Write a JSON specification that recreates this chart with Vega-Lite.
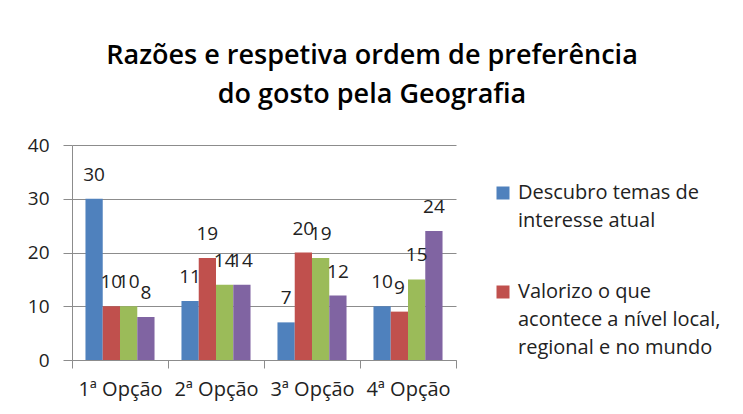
{
  "$schema": "https://vega.github.io/schema/vega-lite/v6.json",
  "width": 384,
  "height": 215,
  "autosize": "none",
  "padding": {"left": 72, "top": 145, "right": 287, "bottom": 54},
  "background": "white",
  "config": {"view": {"stroke": null}, "font": "Open Sans"},
  "title": {
    "text": ["Razões e respetiva ordem de preferência", "do gosto pela Geografia"],
    "font": "Open Sans",
    "fontSize": 27,
    "fontWeight": 600,
    "color": "#000000",
    "lineHeight": 39,
    "anchor": "middle",
    "dx": 108,
    "offset": 27
  },
  "data": {
    "values": [
      {"opcao": "1ª Opção", "serie": "Descubro temas de interesse atual", "valor": 30},
      {"opcao": "1ª Opção", "serie": "Valorizo o que acontece a nível local, regional e no mundo", "valor": 10},
      {"opcao": "1ª Opção", "serie": "Série 3", "valor": 10},
      {"opcao": "1ª Opção", "serie": "Série 4", "valor": 8},
      {"opcao": "2ª Opção", "serie": "Descubro temas de interesse atual", "valor": 11},
      {"opcao": "2ª Opção", "serie": "Valorizo o que acontece a nível local, regional e no mundo", "valor": 19},
      {"opcao": "2ª Opção", "serie": "Série 3", "valor": 14},
      {"opcao": "2ª Opção", "serie": "Série 4", "valor": 14},
      {"opcao": "3ª Opção", "serie": "Descubro temas de interesse atual", "valor": 7},
      {"opcao": "3ª Opção", "serie": "Valorizo o que acontece a nível local, regional e no mundo", "valor": 20},
      {"opcao": "3ª Opção", "serie": "Série 3", "valor": 19},
      {"opcao": "3ª Opção", "serie": "Série 4", "valor": 12},
      {"opcao": "4ª Opção", "serie": "Descubro temas de interesse atual", "valor": 10},
      {"opcao": "4ª Opção", "serie": "Valorizo o que acontece a nível local, regional e no mundo", "valor": 9},
      {"opcao": "4ª Opção", "serie": "Série 3", "valor": 15},
      {"opcao": "4ª Opção", "serie": "Série 4", "valor": 24}
    ]
  },
  "encoding": {
    "x": {
      "field": "opcao",
      "type": "nominal",
      "sort": null,
      "scale": {"paddingInner": 0, "paddingOuter": 0},
      "axis": {
        "title": null,
        "labelAngle": 0,
        "tickBand": "extent",
        "tickSize": 8,
        "tickColor": "#8c8c8c",
        "domainColor": "#8c8c8c",
        "labelFont": "Open Sans",
        "labelFontSize": 20,
        "labelColor": "#222222",
        "labelPadding": 11
      }
    },
    "xOffset": {
      "field": "serie",
      "type": "nominal",
      "sort": null,
      "scale": {"paddingInner": 0, "paddingOuter": 0.78}
    },
    "y": {
      "field": "valor",
      "type": "quantitative",
      "scale": {"domain": [0, 40], "nice": false},
      "axis": {
        "title": null,
        "values": [0, 10, 20, 30, 40],
        "grid": true,
        "gridColor": "#8c8c8c",
        "domain": true,
        "domainColor": "#8c8c8c",
        "tickSize": 9,
        "tickColor": "#8c8c8c",
        "labelFont": "Open Sans",
        "labelFontSize": 19,
        "labelColor": "#222222",
        "labelPadding": 14
      }
    }
  },
  "layer": [
    {
      "mark": {"type": "bar"},
      "encoding": {
        "color": {
          "field": "serie",
          "type": "nominal",
          "sort": null,
          "scale": {
            "domain": ["Descubro temas de interesse atual", "Valorizo o que acontece a nível local, regional e no mundo", "Série 3", "Série 4"],
            "range": ["#4F81BD", "#C0504D", "#9BBB59", "#8064A2"]
          },
          "legend": {
            "title": null,
            "orient": "none",
            "legendX": 421,
            "legendY": 38,
            "values": ["Descubro temas de interesse atual", "Valorizo o que acontece a nível local, regional e no mundo"],
            "symbolType": "square",
            "symbolSize": 169,
            "symbolStrokeWidth": 0,
            "labelFont": "Open Sans",
            "labelFontSize": 20,
            "labelColor": "#222222",
            "labelOffset": 5,
            "labelBaseline": "alphabetic",
            "labelLimit": 300,
            "rowPadding": 51,
            "encoding": {
              "labels": {
                "dy": {"value": 6},
                "lineHeight": {"value": 28}
              }
            },
            "labelExpr": "datum.label == 'Descubro temas de interesse atual' ? ['Descubro temas de', 'interesse atual'] : ['Valorizo o que', 'acontece a nível local,', 'regional e no mundo']"
          }
        }
      }
    },
    {
      "mark": {"type": "text", "dy": -18, "baseline": "alphabetic", "font": "Open Sans", "fontSize": 19, "color": "#222222"},
      "encoding": {"text": {"field": "valor", "type": "quantitative"}}
    }
  ]
}
